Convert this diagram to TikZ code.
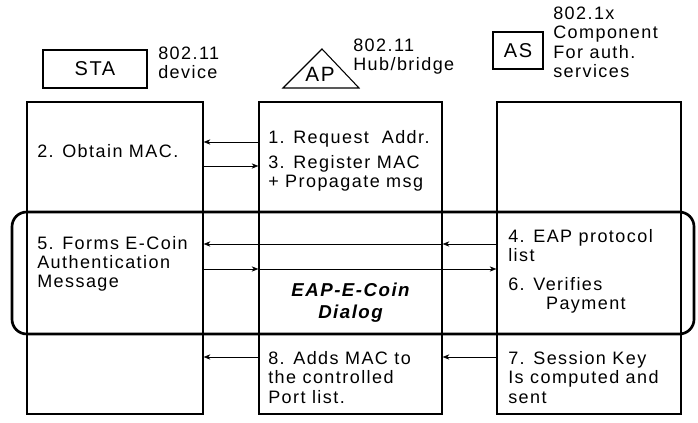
\documentclass[tikz,border=0pt]{standalone}
\usepackage{fontspec}
\setmainfont{Liberation Sans}[LetterSpace=8]
\usetikzlibrary{arrows.meta}
\tikzset{
  colbox/.style={rectangle, draw, line width=1pt, minimum width=#1,
                 minimum height=234pt, inner sep=0pt},
  tagbox/.style={rectangle, draw, line width=0.8pt, minimum width=#1,
                 minimum height=28.5pt, inner sep=0pt,
                 font=\fontsize{15}{16}\selectfont},
  txt/.style={anchor=base west, align=left, inner sep=0pt,
              font=\fontsize{13.5}{14.6}\selectfont},
  msg/.style={-{Stealth[length=5pt, width=4pt]}, thin},
  dialog/.style={rounded corners=11pt, line width=2pt},
}
\begin{document}
\begin{tikzpicture}[x=0.75pt, y=-0.75pt]
  \useasboundingbox (0,0) rectangle (698,423);
  % header (text nodes sit on the baseline of their last line)
  \node[tagbox=78pt] (sta) at (95,69) {STA};
  \node[txt] (stainfo) at (158,78.5) {802.11\\device};
  \draw[line width=0.8pt] (283,88) -- (322,49) -- (359,88) -- cycle;
  \node[txt, anchor=base, font=\fontsize{15.5}{16}\selectfont] (ap) at (320,82) {AP};
  \node[txt] (apinfo) at (353,70.5) {802.11\\Hub/bridge};
  \node[tagbox=37.5pt, minimum height=27.75pt] (as) at (518,50.5) {AS};
  \node[txt] (asinfo) at (553,77.5) {802.1x\\Component\\For auth.\\services};
  % columns
  \foreach \nm/\cx/\w in {stacol/115/132pt, apcol/350.5/137.25pt, ascol/589/138pt}
    \node[colbox=\w] (\nm) at (\cx,258) {};
  \draw[dialog] (12,212) rectangle (694,334);
  % steps
  \node[txt] (s1) at (268,144) {1. Request\ \ Addr.};
  \node[txt] (s2) at (37,158) {2. Obtain MAC.};
  \node[txt] (s3) at (268,187.5) {3. Register MAC\\+ Propagate msg};
  \node[txt] (s4) at (508,261.5) {4. EAP protocol\\list};
  \node[txt] (s5) at (37,288) {5. Forms E-Coin\\Authentication\\Message};
  \node[txt] (s6) at (508,309.5) {6. Verifies\\\hspace*{2.1em}Payment};
  \node[txt, anchor=base, align=center, font=\fontsize{14}{16.5}\selectfont\bfseries\itshape]
    (dlg) at (350.5,319) {EAP-E-Coin\\Dialog};
  \node[txt] (s7) at (508,403) {7. Session Key\\Is computed and\\sent};
  \node[txt] (s8) at (268,403) {8. Adds MAC to\\the controlled\\Port list.};
  % messages
  \foreach \nm/\y in {lv1/142, lv3/166, lv4/244, lv5/269, lv8/357}
    \coordinate (\nm) at (0,\y);
  \draw[msg] (apcol.west |- lv1) -- (stacol.east |- lv1);
  \draw[msg] (stacol.east |- lv3) -- (apcol.west |- lv3);
  \draw[msg] (ascol.west |- lv4) -- (apcol.east |- lv4);
  \draw[msg] (apcol.east |- lv4) -- (stacol.east |- lv4);
  \draw[msg] (stacol.east |- lv5) -- (apcol.west |- lv5);
  \draw[msg] (apcol.west |- lv5) -- (ascol.west |- lv5);
  \draw[msg] (ascol.west |- lv8) -- (apcol.east |- lv8);
  \draw[msg] (apcol.west |- lv8) -- (stacol.east |- lv8);
\end{tikzpicture}
\end{document}
